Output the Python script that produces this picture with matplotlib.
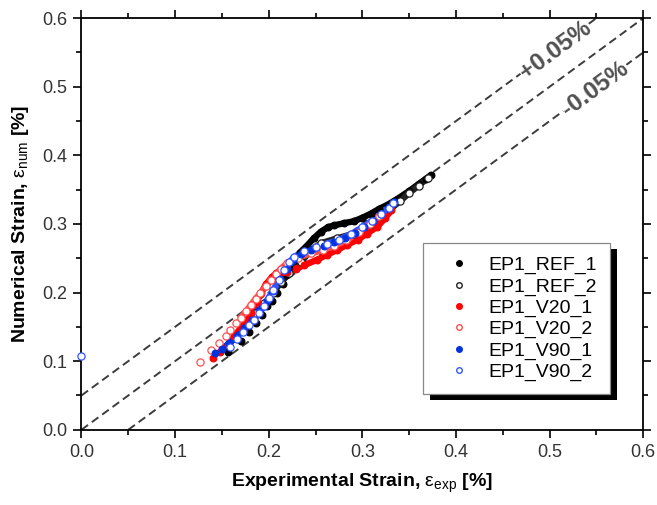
import matplotlib
matplotlib.use("Agg")
import matplotlib.pyplot as plt
from matplotlib.lines import Line2D
from matplotlib.patches import Rectangle
from matplotlib.ticker import MultipleLocator, FormatStrFormatter

plt.rcParams['font.family'] = ['Liberation Sans', 'DejaVu Sans']
plt.rcParams['mathtext.fontset'] = 'custom'
plt.rcParams['mathtext.rm'] = 'Liberation Sans'
plt.rcParams['mathtext.it'] = 'Liberation Sans'
plt.rcParams['mathtext.bf'] = 'Liberation Sans:bold'

# ---------------- data ----------------
ref1_x = [0.157, 0.170, 0.179, 0.186, 0.193, 0.198, 0.204, 0.209, 0.215, 0.218, 0.223,
          0.228, 0.233, 0.240, 0.248, 0.256, 0.263, 0.270, 0.280, 0.291, 0.300, 0.309,
          0.318, 0.327, 0.338, 0.350, 0.360, 0.368, 0.373]
ref1_y = [0.114, 0.129, 0.143, 0.155, 0.167, 0.180, 0.187, 0.199, 0.213, 0.225, 0.235,
          0.248, 0.258, 0.267, 0.279, 0.289, 0.295, 0.298, 0.301, 0.304, 0.309, 0.315,
          0.322, 0.328, 0.337, 0.348, 0.358, 0.366, 0.371]
ref1_sparse = 10

ref2_x = [0.185, 0.195, 0.205, 0.213, 0.222, 0.235, 0.245, 0.256, 0.273, 0.291, 0.309,
          0.320, 0.330, 0.340, 0.350, 0.360, 0.370]
ref2_y = [0.170, 0.185, 0.200, 0.215, 0.228, 0.245, 0.262, 0.272, 0.279, 0.286, 0.300,
          0.312, 0.322, 0.333, 0.345, 0.356, 0.367]
ref2_sparse = 3

v20_1_x = [0.140, 0.148, 0.156, 0.163, 0.170, 0.176, 0.181, 0.187, 0.192, 0.197, 0.203,
           0.208, 0.214, 0.220, 0.229, 0.238, 0.252, 0.262, 0.273, 0.284, 0.295, 0.305,
           0.316, 0.324, 0.331]
v20_1_y = [0.104, 0.114, 0.124, 0.136, 0.148, 0.159, 0.170, 0.186, 0.200, 0.212, 0.222,
           0.228, 0.230, 0.230, 0.235, 0.240, 0.248, 0.255, 0.262, 0.270, 0.277, 0.286,
           0.296, 0.308, 0.320]
v20_1_sparse = 3

v20_2_x = [0.127, 0.138, 0.147, 0.154, 0.159, 0.165, 0.170, 0.176, 0.181, 0.186, 0.191,
           0.197, 0.202, 0.208, 0.213, 0.220, 0.231, 0.245, 0.258, 0.270, 0.283, 0.296,
           0.308, 0.318]
v20_2_y = [0.099, 0.116, 0.126, 0.136, 0.146, 0.155, 0.163, 0.173, 0.182, 0.191, 0.199,
           0.209, 0.218, 0.227, 0.235, 0.243, 0.251, 0.257, 0.262, 0.268, 0.276, 0.288,
           0.300, 0.312]
v20_2_sparse = 7

v90_1_x = [0.143, 0.150, 0.158, 0.166, 0.174, 0.182, 0.190, 0.198, 0.205, 0.212, 0.219,
           0.226, 0.234, 0.245, 0.259, 0.270, 0.281, 0.292, 0.302, 0.311, 0.320, 0.328,
           0.334]
v90_1_y = [0.112, 0.118, 0.126, 0.136, 0.148, 0.160, 0.174, 0.188, 0.203, 0.220, 0.235,
           0.247, 0.256, 0.262, 0.268, 0.273, 0.279, 0.287, 0.296, 0.305, 0.315, 0.325,
           0.332]
v90_1_sparse = 2

v90_2_x = [0.000, 0.159, 0.166, 0.173, 0.179, 0.184, 0.190, 0.195, 0.200, 0.205, 0.211,
           0.216, 0.222, 0.227, 0.238, 0.250, 0.262, 0.275, 0.288, 0.300, 0.310, 0.320,
           0.328, 0.333]
v90_2_y = [0.107, 0.121, 0.132, 0.143, 0.152, 0.160, 0.170, 0.180, 0.192, 0.204, 0.218,
           0.233, 0.244, 0.252, 0.260, 0.266, 0.271, 0.277, 0.285, 0.295, 0.304, 0.315,
           0.324, 0.330]
v90_2_sparse = 6

labels = ['EP1_REF_1', 'EP1_REF_2', 'EP1_V20_1', 'EP1_V20_2', 'EP1_V90_1', 'EP1_V90_2']
offsets = [0.05, 0.0, -0.05]
band_labels = ['+0.05%', '-0.05%']

# ---------------- figure ----------------
fig = plt.figure(figsize=(6.57, 5.05), dpi=100)
ax = fig.add_axes([0.124, 0.149, 0.855, 0.815])
ax.set_xlim(0, 0.6)
ax.set_ylim(0, 0.6)

dash_col = '#3c3c3c'
for off in offsets:
    xs = [max(0.0, -off), min(0.6, 0.6 - off)]
    ys = [x + off for x in xs]
    ax.plot(xs, ys, color=dash_col, lw=1.4, dashes=(4.2, 2.4), zorder=1)

series = [
    (ref1_x, ref1_y, ref1_sparse, 'black', True),
    (ref2_x, ref2_y, ref2_sparse, '#222222', False),
    (v20_1_x, v20_1_y, v20_1_sparse, '#ff0000', True),
    (v20_2_x, v20_2_y, v20_2_sparse, '#ff5050', False),
    (v90_1_x, v90_1_y, v90_1_sparse, '#0033dd', True),
    (v90_2_x, v90_2_y, v90_2_sparse, '#3355ff', False),
]
for xs, ys, ns, col, filled in series:
    ax.plot(xs[ns - 1:], ys[ns - 1:], color=col, lw=4.6, solid_capstyle='round',
            solid_joinstyle='round', zorder=3)
    ax.plot(xs, ys, ls='none', marker='o', ms=4.8 if filled else 5.2,
            mfc=col if filled else 'white', mec=col, mew=0.9, zorder=4, clip_on=False)

# band labels
ax.text(0.506, 0.554, band_labels[0], rotation=36.4, rotation_mode='anchor',
        ha='center', va='center', fontsize=17.5, fontweight='bold', color='#505050',
        bbox=dict(facecolor='white', edgecolor='none', pad=0.5), zorder=2)
ax.text(0.549, 0.497, band_labels[1], rotation=36.4, rotation_mode='anchor',
        ha='center', va='center', fontsize=17.5, fontweight='bold', color='#505050',
        bbox=dict(facecolor='white', edgecolor='none', pad=0.5), zorder=2)

# axes styling
for sp in ax.spines.values():
    sp.set_linewidth(1.3)
ax.xaxis.set_major_locator(MultipleLocator(0.1))
ax.yaxis.set_major_locator(MultipleLocator(0.1))
ax.xaxis.set_minor_locator(MultipleLocator(0.05))
ax.yaxis.set_minor_locator(MultipleLocator(0.05))
ax.xaxis.set_major_formatter(FormatStrFormatter('%.1f'))
ax.yaxis.set_major_formatter(FormatStrFormatter('%.1f'))
ax.tick_params(which='both', direction='out', top=True, right=True, width=1.2,
               labelsize=13, labelcolor='#333333', pad=4)
ax.tick_params(which='major', length=6)
ax.tick_params(which='minor', length=3.5)

ax.set_xlabel(r'Experimental Strain, $\mathrm{ε}_{\mathrm{exp}}$ [%]', fontsize=14,
              fontweight='bold', labelpad=8)
ax.set_ylabel(r'Numerical Strain, $\mathrm{ε}_{\mathrm{num}}$ [%]', fontsize=14,
              fontweight='bold', labelpad=8)

# legend
handles = []
for xs, ys, ns, col, filled in series:
    handles.append(Line2D([], [], ls='none', marker='o', ms=4.0,
                          mfc=col if filled else 'white', mec=col, mew=1.0))
leg = ax.legend(handles, labels, loc='upper left', bbox_to_anchor=(0.608, 0.454),
                fontsize=14, frameon=True, fancybox=False, borderpad=0.7,
                handlelength=2.3, handletextpad=0.35, labelspacing=0.18,
                borderaxespad=0, framealpha=1.0, facecolor='white')
leg.get_frame().set_edgecolor('#888888')
leg.get_frame().set_linewidth(0.9)
leg.set_zorder(6)

fig.canvas.draw()
bb = leg.get_window_extent().transformed(fig.transFigure.inverted())
dx = 7 / 657
dy = 6 / 505
shadow = Rectangle((bb.x0 + dx, bb.y0 - dy), bb.width, bb.height, transform=fig.transFigure,
                   facecolor='black', edgecolor='none', zorder=5)
ax.add_artist(shadow)
shadow.set_clip_on(False)

fig.savefig('out.png', dpi=100)
